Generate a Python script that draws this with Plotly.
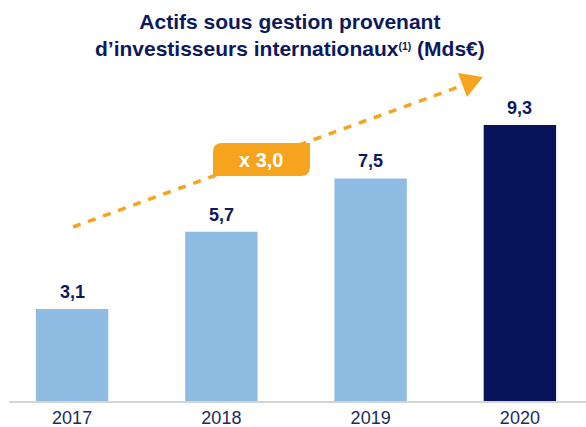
import plotly.graph_objects as go

years = ["2017", "2018", "2019", "2020"]
values = [3.1, 5.7, 7.5, 9.3]
bar_colors = ["#8fbce3", "#8fbce3", "#8fbce3", "#07145a"]
title_lines = ["Actifs sous gestion provenant",
               "d’investisseurs internationaux<span style='font-size:15px'><sup>(1)</sup></span> (Mds€)"]
badge_text = "x 3,0"

W, H = 586, 427
L, R, T, B = 9, 0, 0, 26
PW, PH = W - L - R, H - T - B

def px(x):
    return (x - L) / PW

def py(y):
    return (H - B - y) / PH

NAVY = "#0b1a5c"
ORANGE = "#f6a31e"
FONT = "Liberation Sans, Arial, sans-serif"

fig = go.Figure()
fig.add_trace(go.Bar(
    x=years, y=values,
    marker=dict(color=bar_colors, line=dict(width=0)),
    width=0.485,
    hoverinfo="skip",
))

shapes = []
shapes.append(dict(type="line", xref="paper", yref="paper",
                   x0=px(73), y0=py(227), x1=px(464), y1=py(85),
                   line=dict(color=ORANGE, width=3.5, dash="8px,8px"), layer="above"))
shapes.append(dict(type="path", xref="paper", yref="paper",
                   path=f"M {px(458)} {py(73)} L {px(483)} {py(77)} L {px(467)} {py(97)} Z",
                   fillcolor=ORANGE, line=dict(width=0), layer="above"))
x0, x1, y0, y1, r = 213, 310, 143, 176, 9
p = (f"M {px(x0)} {py(y0 + r)} Q {px(x0)} {py(y0)} {px(x0 + r)} {py(y0)} "
     f"L {px(x1)} {py(y0)} L {px(x1)} {py(y1 - r)} "
     f"Q {px(x1)} {py(y1)} {px(x1 - r)} {py(y1)} "
     f"L {px(x0 + 3)} {py(y1)} L {px(x0)} {py(y1 + 3)} Z")
shapes.append(dict(type="path", xref="paper", yref="paper", path=p,
                   fillcolor=ORANGE, line=dict(width=0), layer="above"))

annotations = [
    dict(text="<br>".join(title_lines), xref="paper", yref="paper",
         x=px(290), y=py(35), xanchor="center", yanchor="middle", showarrow=False,
         font=dict(family=FONT, size=21, color=NAVY, weight="bold"),
         align="center"),
    dict(text=badge_text, xref="paper", yref="paper",
         x=px(261), y=py(160), xanchor="center", yanchor="middle", showarrow=False,
         font=dict(family=FONT, size=20, color="white", weight="bold")),
]
for i, v in enumerate(values):
    annotations.append(dict(
        text=f"{v:.1f}".replace(".", ","), x=i, y=v, xref="x", yref="y",
        xanchor="center", yanchor="bottom", yshift=5, showarrow=False,
        font=dict(family=FONT, size=18, color=NAVY, weight="bold")))

ymax = PH / 29.68
fig.update_layout(
    width=W, height=H,
    margin=dict(l=L, r=R, t=T, b=B, pad=0),
    paper_bgcolor="white", plot_bgcolor="white",
    showlegend=False,
    shapes=shapes, annotations=annotations,
    xaxis=dict(type="category", range=[-(72 - L) / 149, 3 + (W - 520) / 149],
               showgrid=False, zeroline=False, showline=True, linecolor="#d4d4d4", linewidth=2,
               ticks="", tickfont=dict(family=FONT, size=18, color="#1d2a5e"),
               ticklabelstandoff=-1,
               automargin=False, fixedrange=True),
    yaxis=dict(range=[0, ymax], showticklabels=False, showgrid=False, zeroline=False,
               showline=False, ticks="", fixedrange=True),
)

fig.write_html("out.html", config={"displayModeBar": False},
               post_script="document.body.style.margin='0';document.body.style.overflow='hidden';")
